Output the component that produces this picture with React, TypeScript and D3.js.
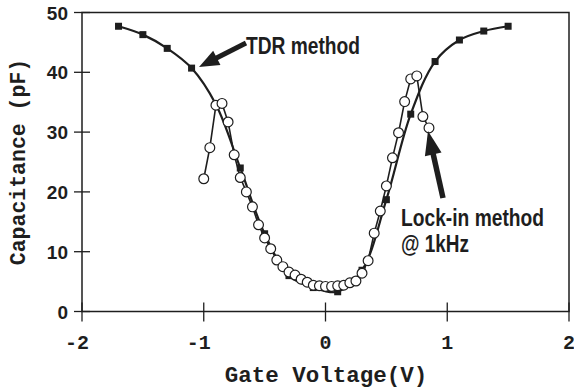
import React, { useEffect, useRef } from "react";
import * as d3 from "d3";

const tdrV = [-1.7, -1.5, -1.3, -1.1, -0.9, -0.7, -0.5, -0.3, -0.1, 0.1, 0.3, 0.5, 0.7, 0.9, 1.1, 1.3, 1.5];
const tdrC = [47.7, 46.3, 44.0, 40.7, 34.6, 24.0, 13.0, 6.0, 4.0, 3.3, 6.9, 18.7, 33.0, 41.8, 45.4, 46.9, 47.7];

const lockV = [-1.0, -0.95, -0.9, -0.85, -0.8, -0.75, -0.7, -0.65, -0.6, -0.55, -0.5, -0.45, -0.4, -0.35, -0.3, -0.25, -0.2, -0.15, -0.1, -0.05, 0, 0.05, 0.1, 0.15, 0.2, 0.25, 0.3, 0.35, 0.4, 0.45, 0.5, 0.55, 0.6, 0.65, 0.7, 0.75, 0.8, 0.85];
const lockC = [22.2, 27.4, 34.5, 34.8, 31.7, 26.2, 22.4, 20.0, 17.5, 14.5, 12.3, 10.5, 8.6, 7.5, 6.6, 6.1, 5.4, 4.9, 4.4, 4.3, 4.2, 4.2, 4.3, 4.4, 4.8, 5.1, 6.4, 8.5, 13.1, 16.8, 21.0, 25.7, 29.9, 35.1, 38.9, 39.4, 32.6, 30.7];

const xTicks = [-2, -1, 0, 1, 2];
const yTicks = [0, 10, 20, 30, 40, 50];
const xTitle = "Gate Voltage(V)";
const yTitle = "Capacitance (pF)";
const tdrLabel = "TDR method";
const lockLabel1 = "Lock-in method";
const lockLabel2 = "@ 1kHz";

const W = 574;
const H = 390;
const INK = "#1e1e1e";

export default function App() {
  const ref = useRef<SVGSVGElement | null>(null);

  useEffect(() => {
    document.body.style.margin = "0";
    const svg = d3.select(ref.current);
    svg.selectAll("*").remove();

    const x = d3.scaleLinear().domain([-2, 2]).range([82, 569]);
    const y = d3.scaleLinear().domain([0, 50]).range([311.5, 12.5]);

    svg.append("rect").attr("width", W).attr("height", H).attr("fill", "#fff");

    // frame
    svg.append("rect")
      .attr("x", x(-2)).attr("y", y(50))
      .attr("width", x(2) - x(-2)).attr("height", y(0) - y(50))
      .attr("fill", "none").attr("stroke", INK).attr("stroke-width", 1.5);

    // ticks
    svg.append("g").selectAll("line").data(yTicks).join("line")
      .attr("x1", x(-2) - 8).attr("x2", x(-2) + 8)
      .attr("y1", d => y(d)).attr("y2", d => y(d))
      .attr("stroke", INK).attr("stroke-width", 1.3);
    svg.append("g").selectAll("line").data(xTicks).join("line")
      .attr("x1", d => x(d)).attr("x2", d => x(d))
      .attr("y1", y(0) - 9).attr("y2", y(0) + 10)
      .attr("stroke", INK).attr("stroke-width", 1.3);

    // tick labels
    svg.append("g").selectAll("text").data(yTicks).join("text")
      .attr("x", 68).attr("y", d => y(d) + 7)
      .attr("text-anchor", "end")
      .attr("font-family", "Liberation Sans, Arial, sans-serif")
      .attr("font-weight", "bold").attr("font-size", 19)
      .attr("fill", INK)
      .text(d => String(d));
    svg.append("g").selectAll("text").data(xTicks).join("text")
      .attr("x", d => x(d) - (d < 0 ? 5 : 0)).attr("y", 349)
      .attr("text-anchor", "middle")
      .attr("font-family", "Liberation Mono, Courier New, monospace")
      .attr("font-weight", "bold").attr("font-size", 20)
      .attr("fill", INK)
      .text(d => String(d));

    // axis titles
    svg.append("text")
      .attr("x", 326).attr("y", 382)
      .attr("text-anchor", "middle")
      .attr("font-family", "Liberation Mono, Courier New, monospace")
      .attr("font-weight", "bold").attr("font-size", 22.5)
      .attr("fill", INK).text(xTitle);
    svg.append("text")
      .attr("transform", "translate(25,162) rotate(-90)")
      .attr("text-anchor", "middle")
      .attr("font-family", "Liberation Mono, Courier New, monospace")
      .attr("font-weight", "bold").attr("font-size", 21.5)
      .attr("fill", INK).text(yTitle);

    const tdrData = tdrV.map((v, i) => [v, tdrC[i]] as [number, number]);
    const lockData = lockV.map((v, i) => [v, lockC[i]] as [number, number]);

    const tdrLine = d3.line<[number, number]>()
      .x(d => x(d[0])).y(d => y(d[1]))
      .curve(d3.curveCatmullRom.alpha(0.5));
    const lockLine = d3.line<[number, number]>()
      .x(d => x(d[0])).y(d => y(d[1]));

    svg.append("path").attr("d", tdrLine(tdrData)!)
      .attr("fill", "none").attr("stroke", INK).attr("stroke-width", 2.2);
    svg.append("path").attr("d", lockLine(lockData)!)
      .attr("fill", "none").attr("stroke", INK).attr("stroke-width", 1.6);

    const sq = 7;
    svg.append("g").selectAll("rect").data(tdrData).join("rect")
      .attr("x", d => x(d[0]) - sq / 2).attr("y", d => y(d[1]) - sq / 2)
      .attr("width", sq).attr("height", sq).attr("fill", INK);

    svg.append("g").selectAll("circle").data(lockData).join("circle")
      .attr("cx", d => x(d[0])).attr("cy", d => y(d[1])).attr("r", 4.9)
      .attr("fill", "#fff").attr("stroke", INK).attr("stroke-width", 1.2);

    // arrows
    const arrow = (x1: number, y1: number, x2: number, y2: number, len: number, half: number, sw: number) => {
      const dx = x2 - x1, dy = y2 - y1;
      const L = Math.hypot(dx, dy);
      const ux = dx / L, uy = dy / L;
      const bx = x2 - ux * len, by = y2 - uy * len;
      svg.append("line")
        .attr("x1", x1).attr("y1", y1).attr("x2", bx + ux * 2).attr("y2", by + uy * 2)
        .attr("stroke", INK).attr("stroke-width", sw);
      svg.append("path")
        .attr("d", `M${x2},${y2}L${bx - uy * half},${by + ux * half}L${bx + uy * half},${by - ux * half}Z`)
        .attr("fill", INK);
    };
    arrow(246, 43, 199, 67, 20, 8, 5);
    arrow(443, 198, 428, 131, 24, 8.5, 5.5);

    const labelFont = "Liberation Sans, Arial, sans-serif";
    svg.append("text").attr("x", 246).attr("y", 54)
      .attr("font-family", labelFont).attr("font-weight", "bold").attr("font-size", 23)
      .attr("textLength", 114).attr("lengthAdjust", "spacingAndGlyphs")
      .attr("fill", INK).text(tdrLabel);
    svg.append("text").attr("x", 401).attr("y", 226)
      .attr("font-family", labelFont).attr("font-weight", "bold").attr("font-size", 23)
      .attr("textLength", 143).attr("lengthAdjust", "spacingAndGlyphs")
      .attr("fill", INK).text(lockLabel1);
    svg.append("text").attr("x", 401).attr("y", 252)
      .attr("font-family", labelFont).attr("font-weight", "bold").attr("font-size", 23)
      .attr("textLength", 68).attr("lengthAdjust", "spacingAndGlyphs")
      .attr("fill", INK).text(lockLabel2);
  }, []);

  return (
    <svg
      ref={ref}
      width={W}
      height={H}
      style={{ position: "absolute", left: 0, top: 0, display: "block" }}
    />
  );
}
